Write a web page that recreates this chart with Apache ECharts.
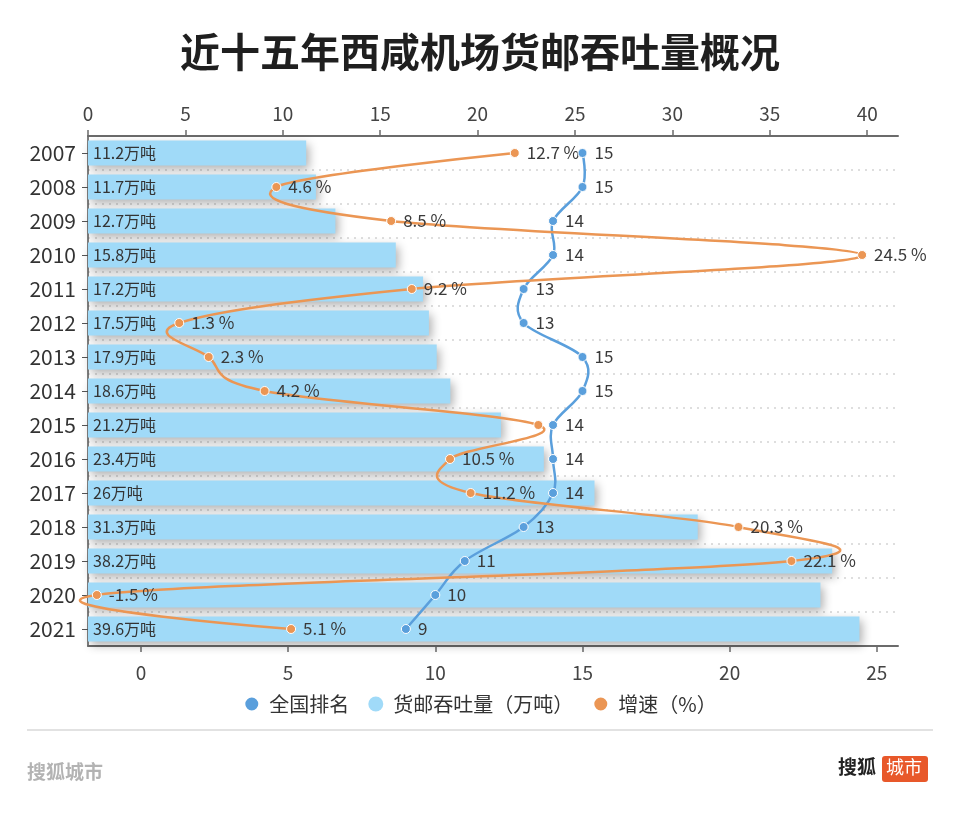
<!DOCTYPE html>
<html>
<head>
<meta charset="utf-8">
<script src="https://cdn.jsdelivr.net/npm/echarts@6/dist/echarts.min.js"></script>
<style>
html,body{margin:0;padding:0;background:#fff;}
#main{width:960px;height:820px;}
</style>
</head>
<body>
<div id="main"></div>
<script>
// ---- data ----
var years = ['2007','2008','2009','2010','2011','2012','2013','2014','2015','2016','2017','2018','2019','2020','2021'];
var cargo = [11.2, 11.7, 12.7, 15.8, 17.2, 17.5, 17.9, 18.6, 21.2, 23.4, 26, 31.3, 38.2, 37.6, 39.6];
var rank = [15, 15, 14, 14, 13, 13, 15, 15, 14, 14, 14, 13, 11, 10, 9];
var growth = [12.7, 4.6, 8.5, 24.5, 9.2, 1.3, 2.3, 4.2, 13.5, 10.5, 11.2, 20.3, 22.1, -1.5, 5.1];
var topTicks = [0, 5, 10, 15, 20, 25, 30, 35, 40];
var bottomTicks = [0, 5, 10, 15, 20, 25];
var seriesNames = ['全国排名', '货邮吞吐量（万吨）', '增速（%）'];
var titleText = '近十五年西咸机场货邮吞吐量概况';

var FONT = '"Noto Sans CJK SC","Noto Sans",sans-serif';
var RANK_COLOR = '#5a9fdc';
var GROWTH_COLOR = '#eb9654';
var SMOOTH = 0.35;
var chart = echarts.init(document.getElementById('main'), null, {renderer: 'canvas'});

// Smooth curve (monotone-in-category bezier, unconstrained) drawn through the axes' own coordinates
function curveRenderer(values, smooth, color) {
  return function (params, api) {
    if (params.dataIndex !== 0) return null;
    var pts = values.map(function (v, i) { return api.coord([v, i]); });
    var n = pts.length;
    var cpIn = [], cpOut = [];
    for (var i = 0; i < n; i++) {
      var p = pts[i];
      if (i === 0 || i === n - 1) { cpIn[i] = p; cpOut[i] = p; continue; }
      var prev = pts[i - 1], next = pts[i + 1];
      var vx = (next[0] - prev[0]) * smooth, vy = (next[1] - prev[1]) * smooth;
      var d0 = Math.abs(p[1] - prev[1]);
      var d1 = Math.abs(next[1] - p[1]);
      var s = d0 + d1;
      if (s !== 0) { d0 /= s; d1 /= s; } else { d0 = d1 = 0.5; }
      cpIn[i] = [p[0] - vx * d0, p[1] - vy * d0];
      cpOut[i] = [p[0] + vx * d1, p[1] + vy * d1];
    }
    var children = [];
    for (var j = 0; j < n - 1; j++) {
      children.push({
        type: 'bezierCurve',
        shape: {
          x1: pts[j][0], y1: pts[j][1], x2: pts[j + 1][0], y2: pts[j + 1][1],
          cpx1: cpOut[j][0], cpy1: cpOut[j][1], cpx2: cpIn[j + 1][0], cpy2: cpIn[j + 1][1]
        },
        style: {stroke: color, fill: null, lineWidth: 2.5, lineCap: 'round'}
      });
    }
    return {type: 'group', children: children};
  };
}

var option = {
  backgroundColor: '#ffffff',
  animation: false,
  textStyle: {fontFamily: FONT},
  title: {
    text: titleText,
    left: 'center',
    top: 27,
    textStyle: {fontSize: 40, fontWeight: 'bold', color: '#1f1f1f', fontFamily: FONT}
  },
  legend: {
    data: seriesNames,
    top: 689,
    left: 'center',
    icon: 'circle',
    itemWidth: 25,
    itemHeight: 15,
    itemGap: 19,
    textStyle: {fontSize: 20, color: '#333', fontFamily: FONT}
  },
  grid: {left: 88, right: 62, top: 136, bottom: 174, containLabel: false},
  xAxis: [
    {
      type: 'value', position: 'top', min: 0, max: 41.58,
      axisLine: {show: true, lineStyle: {color: '#6b6b6b', width: 2}},
      axisTick: {show: true, length: 6, customValues: topTicks, lineStyle: {color: '#6b6b6b', width: 1.5}},
      axisLabel: {customValues: topTicks, fontSize: 19, color: '#444', margin: 13},
      splitLine: {show: false}
    },
    {
      type: 'value', position: 'bottom', min: -1.8, max: 25.72,
      axisLine: {show: true, onZero: false, lineStyle: {color: '#6b6b6b', width: 2}},
      axisTick: {show: true, length: 6, customValues: bottomTicks, lineStyle: {color: '#6b6b6b', width: 1.5}},
      axisLabel: {customValues: bottomTicks, fontSize: 19, color: '#444', margin: 17},
      splitLine: {show: false}
    }
  ],
  yAxis: {
    type: 'category', inverse: true, data: years,
    axisLine: {show: true, lineStyle: {color: '#555', width: 1.5}},
    axisTick: {show: true, alignWithLabel: true, length: 6, lineStyle: {color: '#555'}},
    axisLabel: {fontSize: 21, color: '#333', margin: 12},
    splitLine: {show: true, lineStyle: {type: [2, 5], color: '#d3d3d3', width: 1.5}}
  },
  series: [
    {
      name: seriesNames[1], type: 'bar', xAxisIndex: 0,
      data: cargo, barWidth: 25, z: 2,
      itemStyle: {
        color: '#a0daf8',
        shadowColor: 'rgba(0,0,0,0.3)', shadowBlur: 10, shadowOffsetX: 3, shadowOffsetY: 4
      },
      label: {
        show: true, position: 'insideLeft', distance: 5,
        fontSize: 16, color: '#333',
        formatter: function (p) { return growth[p.dataIndex] < 0 ? '' : p.value + '万吨'; }
      }
    },
    {
      type: 'custom', xAxisIndex: 1, z: 3, clip: false, silent: true,
      data: rank.map(function (v, i) { return [v, i]; }),
      encode: {x: 0, y: 1},
      renderItem: curveRenderer(rank, SMOOTH, RANK_COLOR)
    },
    {
      type: 'custom', xAxisIndex: 1, z: 3, clip: false, silent: true,
      data: growth.map(function (v, i) { return [v, i]; }),
      encode: {x: 0, y: 1},
      renderItem: curveRenderer(growth, SMOOTH, GROWTH_COLOR)
    },
    {
      name: seriesNames[0], type: 'line', xAxisIndex: 1,
      data: rank, clip: false, z: 5,
      symbol: 'circle', symbolSize: 9,
      lineStyle: {width: 0, opacity: 0},
      itemStyle: {color: RANK_COLOR, borderColor: '#fff', borderWidth: 1},
      label: {show: true, position: 'right', distance: 7, fontSize: 17, color: '#3a3a3a'}
    },
    {
      name: seriesNames[2], type: 'line', xAxisIndex: 1,
      data: growth, clip: false, z: 4,
      symbol: 'circle', symbolSize: 9,
      lineStyle: {width: 0, opacity: 0},
      itemStyle: {color: GROWTH_COLOR, borderColor: '#fff', borderWidth: 1},
      label: {
        show: true, position: 'right', distance: 7, fontSize: 17, color: '#3a3a3a',
        formatter: function (p) {
          return Math.abs(p.value - rank[p.dataIndex]) < 1.5 ? '' : p.value + ' %';
        }
      }
    }
  ],
  graphic: [
    {type: 'rect', shape: {x: 27, y: 729, width: 906, height: 2}, style: {fill: '#e2e2e2'}, silent: true},
    {type: 'text', left: 27, top: 762, style: {text: '搜狐城市', fontSize: 19, fontWeight: 'bold', fill: '#b3b3b3', fontFamily: FONT}},
    {type: 'text', left: 838, top: 757, style: {text: '搜狐', fontSize: 19, fontWeight: 'bold', fill: '#222', fontFamily: FONT}},
    {type: 'rect', shape: {x: 882, y: 756, width: 46, height: 26, r: 3}, style: {fill: '#e8582a'}},
    {type: 'text', left: 886, top: 758, style: {text: '城市', fontSize: 18, fill: '#fff', fontFamily: FONT}}
  ]
};
chart.setOption(option);
</script>
</body>
</html>
